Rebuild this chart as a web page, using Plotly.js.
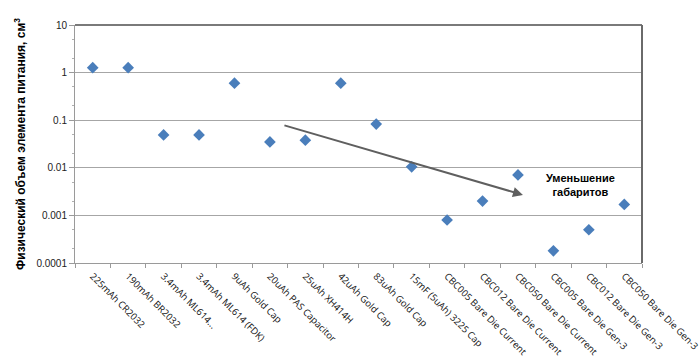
<!DOCTYPE html>
<html>
<head>
<meta charset="utf-8">
<script src="https://cdn.plot.ly/plotly-3.0.1.min.js"></script>
<style>html,body{margin:0;padding:0;background:#fff;}#chart{width:700px;height:359px;}</style>
</head>
<body>
<div id="chart"></div>
<script>
const categories = [
  "225mAh CR2032",
  "190mAh BR2032",
  "3.4mAh ML614...",
  "3.4mAh ML614 (FDK)",
  "9uAh Gold Cap",
  "20uAh PAS Capacitor",
  "25uAh XH414H",
  "42uAh Gold Cap",
  "83uAh Gold Cap",
  "15mF (5uAh) 3225 Cap",
  "CBC005 Bare Die Current",
  "CBC012 Bare Die Current",
  "CBC050 Bare Die Current",
  "CBC005 Bare Die Gen-3",
  "CBC012 Bare Die Gen-3",
  "CBC050 Bare Die Gen-3"
];
const volumes = [1.27, 1.27, 0.049, 0.049, 0.6, 0.035, 0.038, 0.6, 0.083, 0.0105, 0.0008, 0.002, 0.0071, 0.00018, 0.0005, 0.0017];
const yTickVals = [0.0001, 0.001, 0.01, 0.1, 1, 10];
const yTickText = ["0.0001", "0.001", "0.01", "0.1", "1", "10"];
const yTitle = "Физический объем элемента питания, см<sup>3</sup>";
const noteText = "Уменьшение<br>габаритов";

const trace = {
  type: "scatter",
  mode: "markers",
  x: categories,
  y: volumes,
  marker: {symbol: "diamond", size: 9, color: "#4A7EBB"},
  showlegend: false,
  hoverinfo: "x+y"
};

const layout = {
  width: 700,
  height: 359,
  margin: {l: 75, r: 58, t: 25, b: 96},
  paper_bgcolor: "#ffffff",
  plot_bgcolor: "#ffffff",
  font: {family: "Liberation Sans, Arial, sans-serif", size: 10, color: "#222"},
  xaxis: {
    type: "category",
    categoryorder: "array",
    categoryarray: categories,
    range: [-0.5, categories.length - 0.5],
    tickson: "boundaries",
    ticks: "outside",
    ticklen: 4,
    tickcolor: "#9a9a9a",
    showline: true,
    linecolor: "#9a9a9a",
    linewidth: 1,
    showgrid: false,
    tickangle: 45,
    ticklabelstandoff: 3,
    tickfont: {family: "Open Sans, Liberation Sans, sans-serif", size: 9.5, color: "#111"},
    automargin: false,
    fixedrange: true
  },
  yaxis: {
    type: "log",
    range: [-4, 1],
    tickvals: yTickVals,
    ticktext: yTickText,
    ticks: "outside",
    ticklen: 5,
    tickcolor: "#9a9a9a",
    showline: true,
    linecolor: "#9a9a9a",
    linewidth: 1,
    showgrid: true,
    gridcolor: "#a6a6a6",
    gridwidth: 1,
    zeroline: false,
    tickfont: {family: "Liberation Sans, Arial, sans-serif", size: 10, color: "#222"},
    minor: {ticks: "outside", ticklen: 2, tickcolor: "#b0b0b0", showgrid: false},
    title: {text: yTitle, font: {family: "Liberation Sans, Arial, sans-serif", size: 12, color: "#000", weight: "bold"}, standoff: 8},
    automargin: false,
    fixedrange: true
  },
  shapes: [
    {type: "line", xref: "paper", yref: "paper", x0: 0, x1: 1, y0: 1, y1: 1, line: {color: "#7a7a7a", width: 2}},
    {type: "line", xref: "paper", yref: "paper", x0: 1, x1: 1, y0: 0, y1: 1, line: {color: "#6a6a6a", width: 2}}
  ],
  annotations: [
    {
      xref: "paper", yref: "paper",
      x: 0.790, y: 0.286,
      axref: "pixel", ayref: "pixel",
      ax: -240, ay: -70,
      text: "",
      showarrow: true,
      arrowhead: 2,
      arrowsize: 1,
      arrowwidth: 2,
      arrowcolor: "#5f5f5f"
    },
    {
      xref: "paper", yref: "paper",
      x: 0.892, y: 0.328,
      xanchor: "center", yanchor: "middle",
      text: noteText,
      showarrow: false,
      align: "center",
      font: {family: "Liberation Sans, Arial, sans-serif", size: 11, color: "#000", weight: "bold"}
    }
  ]
};

Plotly.newPlot("chart", [trace], layout, {displayModeBar: false, staticPlot: true});
</script>
</body>
</html>
